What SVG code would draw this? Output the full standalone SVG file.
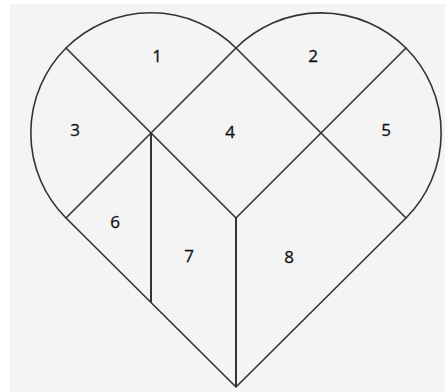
<svg xmlns="http://www.w3.org/2000/svg" width="445" height="392" viewBox="0 0 445 392">
<style>
.bg{fill:#f4f4f4}
.ln{fill:none;stroke:#333;stroke-width:1.6;stroke-linecap:round;stroke-linejoin:round}
.vl{fill:none;stroke:#333;stroke-width:2}
.lb{font-family:"Open Sans","Liberation Sans",sans-serif;font-size:17px;fill:#111;stroke:#111;stroke-width:0.3;text-anchor:middle}
</style>
<rect class="bg" x="10" y="4" width="435" height="388"/>
<g id="connectors">
<path class="ln" d="M66 218 A120.2 120.2 0 0 1 236 48 A120.2 120.2 0 0 1 406 218 L236 387 Z"/>
<line class="ln" x1="66" y1="48" x2="236" y2="218"/>
<line class="ln" x1="236" y1="48" x2="66" y2="218"/>
<line class="ln" x1="236" y1="48" x2="406" y2="218"/>
<line class="ln" x1="406" y1="48" x2="236" y2="218"/>
<line class="vl" x1="236" y1="218" x2="236" y2="387"/>
<line class="vl" x1="151" y1="133" x2="151" y2="302"/>
</g>
<g id="n1"><text class="lb" x="157" y="62">1</text></g>
<g id="n2"><text class="lb" x="313" y="62">2</text></g>
<g id="n3"><text class="lb" x="75" y="136">3</text></g>
<g id="n4"><text class="lb" x="230" y="138">4</text></g>
<g id="n5"><text class="lb" x="386" y="136">5</text></g>
<g id="n6"><text class="lb" x="115" y="228">6</text></g>
<g id="n7"><text class="lb" x="189" y="262">7</text></g>
<g id="n8"><text class="lb" x="289" y="263">8</text></g>
</svg>
